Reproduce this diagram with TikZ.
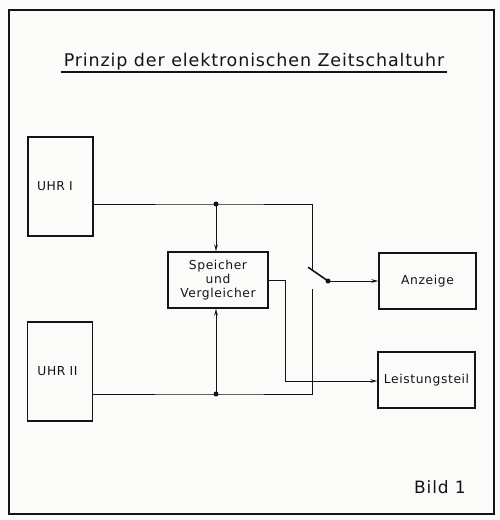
\documentclass[tikz,border=0pt]{standalone}
\usepackage{fontspec}
\setmainfont{DejaVu Sans}[LetterSpace=5]
\usetikzlibrary{arrows.meta,calc}
\definecolor{paper}{RGB}{251,251,249}
\definecolor{ink}{RGB}{20,20,20}
\tikzset{
  blk/.style={draw=ink, line width=1.3pt, inner sep=0pt, font=\fontsize{12.3}{14}\selectfont, text=ink},
  wire/.style={draw=ink, line width=1.0pt},
  arr/.style={wire, -{Stealth[length=7pt,width=3.6pt]}},
  dot/.style={circle, fill=ink, inner sep=0pt, minimum size=5pt},
}
\begin{document}
\begin{tikzpicture}[x=1pt,y=-1pt]
\fill[paper] (0,0) rectangle (500,520);
\useasboundingbox (0,0) rectangle (500,520);
\draw[ink, line width=1.3pt] (9,10) rectangle (494,514);
% title
\node[text=ink, font=\fontsize{17.5}{20}\selectfont, anchor=base, inner sep=0pt] (title) at (254,66) {Prinzip\ der\ elektronischen\ Zeitschaltuhr};
\draw[ink, line width=1.4pt] ($(title.base west)+(-3,6)$) -- ($(title.base east)+(3,6)$);
% blocks
\node[blk, minimum width=65pt, minimum height=99pt, text width=47pt, inner xsep=9pt, align=left] (uhr1) at (60.5,186.5) {UHR I};
\node[blk, minimum width=64pt, minimum height=99pt, text width=45pt, inner xsep=10pt, align=left] (uhr2) at (60,371.5) {UHR II};
\node[blk, minimum width=100pt, minimum height=56pt, align=center] (sp) at (218,280) {Speicher\\und\\Vergleicher};
\node[blk, minimum width=97pt, minimum height=56pt] (anz) at (427.5,281) {Anzeige};
\node[blk, minimum width=97pt, minimum height=56pt] (lst) at (426.5,380) {Leistungsteil};
\node[text=ink, font=\fontsize{17}{20}\selectfont, inner sep=0pt] (bild) at (440,487) {Bild 1};
% junctions
\node[dot] (j1) at (216,204) {};
\node[dot] (j2) at (216,394) {};
\node[dot] (sw) at (328,281) {};
\coordinate (c1) at (312,204);
\coordinate (c1b) at (312,270);
\coordinate (c2) at (312,289);
\coordinate (c2b) at (312,394);
\coordinate (k1) at (285,280);
\coordinate (k2) at (285,381);
% wires
\draw[wire] (uhr1.east |- j1) -- (j1.center) -- (c1) -- (c1b);
\draw[wire, line width=1.6pt, line cap=round] (308.5,267.5) -- (sw.center);
\draw[arr] (sw.center) -- (anz.west);
\draw[arr] (j1.center) -- (sp.north -| j1);
\draw[arr] (j2.center) -- (sp.south -| j2);
\draw[wire] (uhr2.east |- j2) -- (j2.center) -- (c2b) -- (c2);
\draw[arr] (sp.east) -- (k1) -- (k2) -- (lst.west |- k2);
\end{tikzpicture}
\end{document}
